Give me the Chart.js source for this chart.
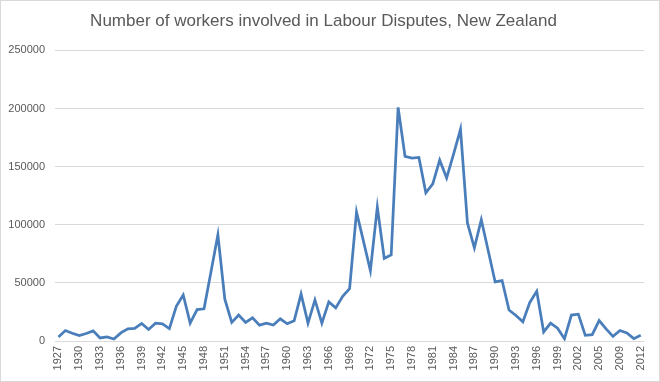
<!DOCTYPE html>
<html>
<head>
    <meta charset="UTF-8">
    <title>Labour Disputes NZ</title>
    <script src="https://cdn.jsdelivr.net/npm/chart.js"></script>
    <style>
        body { margin: 0; background: #fff; }
        #wrap { width: 660px; height: 382px; box-sizing: border-box; border: 1px solid #d9d9d9; }
    </style>
</head>
<body>
    <div id="wrap"><canvas id="nzChart" width="658" height="380"></canvas></div>
    <script>
        // years (one year between 2005 and 2009 is missing in the source series)
        var years = [];
        for (var y = 1927; y <= 2005; y++) years.push(String(y));
        years.push('2006', '2008', '2009', '2010', '2011', '2012');

        var workers = [
            3500, 9000, 6700, 4600, 6400, 8700, 2600, 3500, 1700, 7000,
            10500, 10800, 15100, 9900, 15300, 14700, 10700, 29800, 39600, 15400,
            27000, 27700, 59400, 91400, 36000, 16000, 22300, 16000, 20000, 13600,
            15300, 13700, 19100, 14800, 17400, 40400, 15400, 35300, 15400, 33600,
            28500, 38400, 45000, 111000, 85900, 60600, 115200, 71100, 74000, 201000,
            158800, 157300, 157900, 127500, 135100, 155600, 140300, 160700, 182100, 101600,
            80200, 104400, 77700, 50800, 52000, 26700, 21900, 16500, 33200, 42800,
            7800, 15300, 11000, 2000, 22300, 23100, 4900, 5500, 17600, 10400,
            4000, 9000, 6900, 2000, 4900
        ];

        var yMax = 250000;
        var yStep = 50000;

        var ctx = document.getElementById('nzChart').getContext('2d');
        var nzChart = new Chart(ctx, {
            type: 'line',
            data: {
                labels: years,
                datasets: [{
                    label: 'Workers involved',
                    data: workers,
                    borderColor: '#4a7ebb',
                    borderWidth: 2.75,
                    pointRadius: 0,
                    tension: 0,
                    fill: false
                }]
            },
            options: {
                responsive: false,
                animation: false,
                layout: { padding: { left: 0, right: 13, top: 0, bottom: 0 } },
                plugins: {
                    legend: { display: false },
                    tooltip: { enabled: false },
                    title: {
                        display: true,
                        text: 'Number of workers involved in Labour Disputes, New Zealand',
                        color: '#595959',
                        font: { family: 'Liberation Sans', size: 17, weight: 'normal' },
                        padding: { top: 10, bottom: 19 }
                    }
                },
                scales: {
                    x: {
                        offset: true,
                        grid: { display: false, drawTicks: false },
                        border: { display: false },
                        ticks: {
                            autoSkip: false,
                            minRotation: 90,
                            maxRotation: 90,
                            padding: 5,
                            color: '#595959',
                            font: { family: 'Liberation Sans', size: 11 },
                            callback: function (val, idx) {
                                return idx % 3 === 0 ? years[idx] : '';
                            }
                        },
                        afterFit: function (scale) { scale.height = 40; }
                    },
                    y: {
                        min: 0,
                        max: yMax,
                        grid: { color: '#d9d9d9', drawTicks: false, lineWidth: 1 },
                        border: { display: false },
                        ticks: {
                            stepSize: yStep,
                            padding: 10,
                            color: '#595959',
                            font: { family: 'Liberation Sans', size: 11 },
                            callback: function (val) { return String(val); }
                        },
                        afterFit: function (scale) { scale.width = 54; }
                    }
                }
            }
        });
    </script>
</body>
</html>
